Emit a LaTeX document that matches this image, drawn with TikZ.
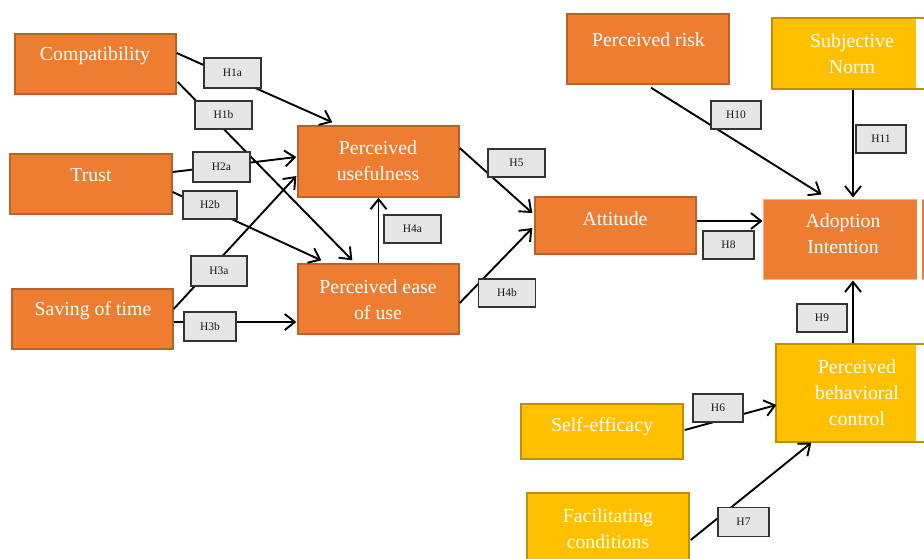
\documentclass[tikz,border=0pt]{standalone}
\usepackage{fontspec}
\setmainfont{Liberation Serif}
\usetikzlibrary{arrows.meta,calc}
\definecolor{boxorange}{HTML}{ED7D31}
\definecolor{edgeorange}{HTML}{B8612A}
\definecolor{boxyellow}{HTML}{FFC000}
\definecolor{edgeyellow}{HTML}{BF9000}
\definecolor{tagfill}{HTML}{E7E6E6}
\definecolor{tagedge}{HTML}{333333}
\definecolor{aiedge}{HTML}{F4B183}

\begin{document}
\begin{tikzpicture}[x=1pt,y=-1pt,
  ob/.style={draw=edgeorange, fill=boxorange, line width=1.4pt, inner sep=0pt, rectangle},
  yb/.style={draw=edgeyellow, fill=boxyellow, line width=1.4pt, inner sep=0pt, rectangle},
  bt/.style={text=white, font=\fontsize{19.8pt}{26pt}\selectfont, align=center, inner sep=0pt},
  tag/.style={draw=tagedge, fill=tagfill, line width=1.1pt, inner sep=0pt,
    font=\fontsize{11.5pt}{13pt}\selectfont, text=black!90},
  link/.style={line width=1.9pt, -{Straight Barb[length=10pt,width=16pt]}}
]
\useasboundingbox (0,0) rectangle (924,558);

% construct boxes
\node[ob, minimum width=161pt, minimum height=60pt] (comp)  at (95.5,64)  {};
\node[ob, minimum width=162pt, minimum height=60pt] (trust) at (91,184)   {};
\node[ob, minimum width=161pt, minimum height=60pt] (save)  at (92.5,319) {};
\node[ob, minimum width=161pt, minimum height=71pt] (pu)    at (378.5,161.5) {};
\node[ob, minimum width=161pt, minimum height=70pt] (peou)  at (378.5,299) {};
\node[ob, minimum width=161pt, minimum height=57pt] (att)   at (615.5,225.5) {};
\node[ob, minimum width=162pt, minimum height=70pt] (risk)  at (648,49)   {};
\node[yb, minimum width=158pt, minimum height=71pt] (sn)    at (851,53.5) {};
\node[ob, draw=aiedge, line width=1pt, minimum width=167pt, minimum height=80pt] (ai) at (846.5,239) {};
\node[yb, minimum width=154pt, minimum height=98pt] (pbc)   at (853,393)  {};
\node[yb, minimum width=162pt, minimum height=55pt] (se)    at (602,431.5) {};
\node[yb, minimum width=162pt, minimum height=82pt] (fc)    at (608,534)  {};

% white strips at the right-hand edge of the cut boxes
\fill[white] ($(sn.north west)+(145,1.5)$) rectangle ($(sn.south east)+(0,-1.5)$);
\fill[white] ($(ai.north west)+(154,0)$) rectangle ($(ai.south west)+(159.5,0)$);
\fill[white] ($(pbc.north west)+(141,1.5)$) rectangle ($(pbc.south east)+(0,-1.5)$);

% box texts
\node[bt] (compT)  at (95,56)      {Compatibility};
\node[bt] (trustT) at (91,175)     {Trust};
\node[bt] (saveT)  at (93,311)     {Saving of time};
\node[bt] (puT)    at (378,161)    {Perceived\\usefulness};
\node[bt] (peouT)  at (378,299.5)  {Perceived ease\\of use};
\node[bt] (attT)   at (615,218.5)  {Attitude};
\node[bt] (riskT)  at (648.5,40)   {Perceived risk};
\node[bt] (snT)    at (852,54)     {Subjective\\Norm};
\node[bt] (aiT)    at (843,234)    {Adoption\\Intention};
\node[bt] (pbcT)   at (857,392.5)  {Perceived\\behavioral\\control};
\node[bt] (seT)    at (602,427)    {Self-efficacy};
\node[bt] (fcT)    at (608,528.5)  {Facilitating\\conditions};

% hypothesised paths
\draw[link] ($(comp.east)+(0,-11)$) -- ($(pu.north west)+(35,-3)$);
\draw[link] ($(comp.east)+(1,18)$) -- ($(peou.north west)+(55,-3)$);
\draw[link] ($(trust.east)+(0,-12)$) -- ($(pu.west)+(-1,-4.5)$);
\draw[link] ($(trust.east)+(0,8)$) -- ($(peou.north west)+(24,-3)$);
\draw[link] ($(save.east)+(0,-10)$) -- ($(pu.west)+(-1,14.5)$);
\draw[link] ($(save.east)+(0,3)$) -- ($(peou.west)+(-1,23)$);
\draw[link] (peou.north) -- (pu.south);
\draw[link] ($(peou.east)+(0,4)$) -- ($(att.west)+(-2,2.5)$);
\draw[link] ($(pu.east)+(0,-13.5)$) -- ($(att.west)+(-2,-12.5)$);
\draw[link] ($(att.east)+(0,-4.5)$) -- ($(ai.west)+(0,-18)$);
\draw[link] ($(risk.south)+(3,3)$) -- ($(ai.north west)+(59,-4)$);
\draw[link] ($(sn.south)+(2,0)$) -- ($(ai.north)+(6.5,-1)$);
\draw[link] (pbc.north) -- ($(ai.south)+(6.5,1)$);
\draw[link] ($(se.east)+(1,-1.5)$) -- ($(pbc.west)+(1,12)$);
\draw[link] ($(fc.east)+(1,6)$) -- ($(pbc.south west)+(36,0)$);

% hypothesis tags
\node[tag, minimum width=57pt, minimum height=30pt] (h1a) at (232.5,73)  {H1a};
\node[tag, minimum width=57pt, minimum height=28pt] (h1b) at (223.5,115) {H1b};
\node[tag, minimum width=57pt, minimum height=30pt] (h2a) at (221.5,167) {H2a};
\node[tag, minimum width=54pt, minimum height=28pt] (h2b) at (210,205)   {H2b};
\node[tag, minimum width=56pt, minimum height=30pt] (h3a) at (219,271)   {H3a};
\node[tag, minimum width=52pt, minimum height=29pt] (h3b) at (210,326.5) {H3b};
\node[tag, minimum width=57pt, minimum height=28pt] (h4a) at (412.5,229) {H4a};
\node[tag, minimum width=57pt, minimum height=28pt] (h4b) at (507,293)   {H4b};
\node[tag, minimum width=57pt, minimum height=28pt] (h5)  at (516.5,163) {H5};
\node[tag, minimum width=51pt, minimum height=28pt] (h8)  at (728.5,245) {H8};
\node[tag, minimum width=50pt, minimum height=28pt] (h10) at (736,115)   {H10};
\node[tag, minimum width=50pt, minimum height=28pt] (h11) at (881,139)   {H11};
\node[tag, minimum width=50pt, minimum height=28pt] (h9)  at (822,318)   {H9};
\node[tag, minimum width=50pt, minimum height=28pt] (h6)  at (718,408)   {H6};
\node[tag, minimum width=51pt, minimum height=29pt] (h7)  at (743.5,522) {H7};
\end{tikzpicture}
\end{document}
